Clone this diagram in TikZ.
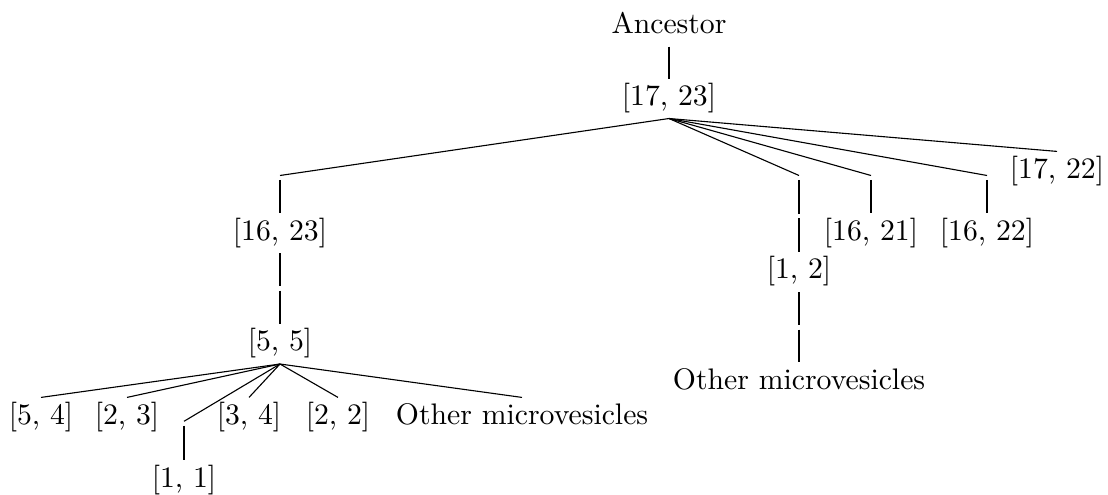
\documentclass[tikz,border=0pt]{standalone}
\begin{document}
\begin{tikzpicture}[
		x=0.36pt, y=-0.36pt,
		vertex/.style={inner sep=2.5pt, text height=7pt, text depth=2pt,
		font=\fontsize{10.7pt}{13pt}\selectfont},
		joint/.style={inner sep=0.6pt}
		]
	\useasboundingbox (0,0) rectangle (1108,494);

	\node[vertex](N0) at (669,26.6){Ancestor};
	\node[vertex](N1) at (669,98.5){[17, 23]};
	\draw (N0) --(N1);

	% first level below [17, 23]
	\node[joint](J1) at (280,177.7){};
	\node[joint](J2) at (799,177.7){};
	\node[joint](J3) at (871,177.7){};
	\node[joint](J4) at (987,177.7){};
	\node[vertex](N2) at (1057,171.4){[17, 22]};
	\draw (N1.south) --(J1.north);
	\draw (N1.south) --(J2.north);
	\draw (N1.south) --(J3.north);
	\draw (N1.south) --(J4.north);
	\draw (N1.south) --(N2.north);

	\node[vertex](N3) at (280,233.2){[16, 23]};
	\draw (J1) --(N3);
	\node[vertex](N4) at (871,233.4){[16, 21]};
	\draw (J3) --(N4);
	\node[vertex](N5) at (987,233.4){[16, 22]};
	\draw (J4) --(N5);

	% left branch down to [5, 5]
	\node[joint](J5) at (280,288.5){};
	\draw (N3) --(J5);
	\node[vertex](N6) at (280,344){[5, 5]};
	\draw (J5) --(N6);

	% right branch down through [1, 2]
	\node[joint](J6) at (799,216){};
	\draw (J2) --(J6);
	\node[vertex](N7) at (799,272){[1, 2]};
	\draw (J6) --(N7);
	\node[joint](J7) at (799,327.5){};
	\draw (N7) --(J7);
	\node[vertex](N8) at (799,382.4){Other microvesicles};
	\draw (J7) --(N8);

	% children of [5, 5]
	\node[vertex](N9) at (41,417.4){[5, 4]};
	\node[vertex](N10) at (127,417.4){[2, 3]};
	\node[joint](J8) at (184,423.5){};
	\node[vertex](N11) at (249,417.4){[3, 4]};
	\node[vertex](N12) at (338,417.4){[2, 2]};
	\node[vertex](N13) at (522,417.4){Other microvesicles};
	\draw (N6.south) --(N9.north);
	\draw (N6.south) --(N10.north);
	\draw (N6.south) --(J8.north);
	\draw (N6.south) --(N11.north);
	\draw (N6.south) --(N12.north);
	\draw (N6.south) --(N13.north);

	\node[vertex](N14) at (184,480.4){[1, 1]};
	\draw (J8) --(N14);
\end{tikzpicture}
\end{document}
